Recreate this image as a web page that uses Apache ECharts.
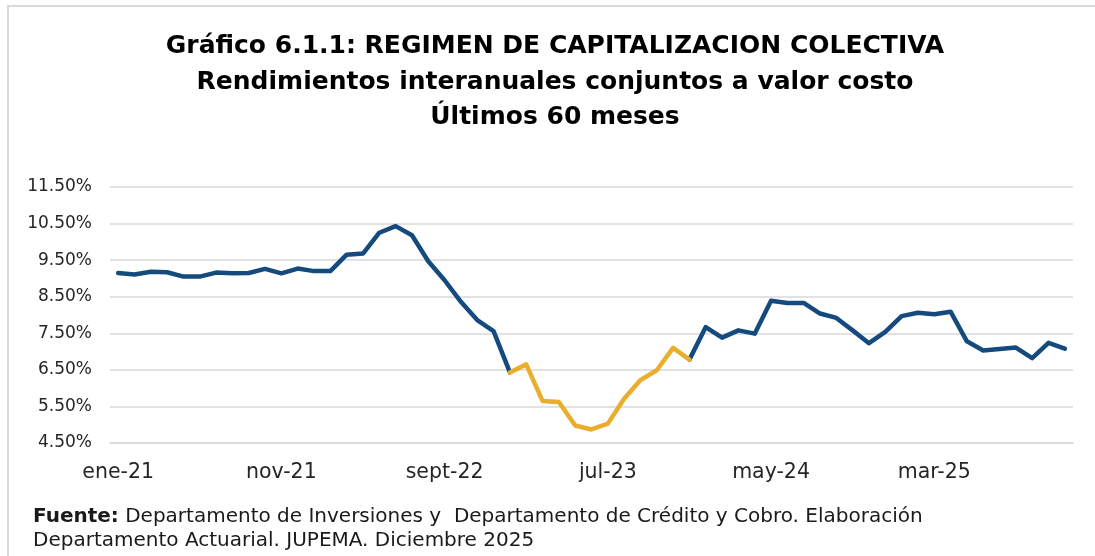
<!DOCTYPE html>
<html>
<head>
<meta charset="utf-8">
<title>Rendimientos interanuales</title>
<script src="https://cdn.jsdelivr.net/npm/echarts@6/dist/echarts.min.js"></script>
<style>
  html, body { margin: 0; padding: 0; background: #fff; }
  #chart { width: 1095px; height: 556px; }
</style>
</head>
<body>
<div id="chart"></div>
<script>
// meses de ene-21 a nov-25
var meses = [
  'ene-21', 'feb-21', 'mar-21', 'abr-21', 'may-21', 'jun-21', 'jul-21', 'ago-21', 'sept-21', 'oct-21', 'nov-21', 'dic-21',
  'ene-22', 'feb-22', 'mar-22', 'abr-22', 'may-22', 'jun-22', 'jul-22', 'ago-22', 'sept-22', 'oct-22', 'nov-22', 'dic-22',
  'ene-23', 'feb-23', 'mar-23', 'abr-23', 'may-23', 'jun-23', 'jul-23', 'ago-23', 'sept-23', 'oct-23', 'nov-23', 'dic-23',
  'ene-24', 'feb-24', 'mar-24', 'abr-24', 'may-24', 'jun-24', 'jul-24', 'ago-24', 'sept-24', 'oct-24', 'nov-24', 'dic-24',
  'ene-25', 'feb-25', 'mar-25', 'abr-25', 'may-25', 'jun-25', 'jul-25', 'ago-25', 'sept-25', 'oct-25', 'nov-25'
]

// rendimiento interanual (%)
var rendimiento = [
  9.15, 9.11, 9.18, 9.17, 9.05, 9.05, 9.16, 9.14, 9.15, 9.26, 9.14, 9.27,
  9.20, 9.20, 9.65, 9.68, 10.25, 10.43, 10.18, 9.47, 8.95, 8.36, 7.86, 7.56,
  6.43, 6.65, 5.65, 5.62, 4.98, 4.87, 5.03, 5.71, 6.22, 6.49, 7.10, 6.78,
  7.67, 7.38, 7.58, 7.49, 8.39, 8.33, 8.33, 8.04, 7.92, 7.58, 7.23, 7.54,
  7.97, 8.06, 8.02, 8.09, 7.28, 7.03, 7.07, 7.11, 6.82, 7.24, 7.08
]

// tramo resaltado en amarillo (indices)
var tramoInicio = 24
var tramoFin = 35

var fuente = 'DejaVu Sans'
var titulo = 'Gráfico 6.1.1: REGIMEN DE CAPITALIZACION COLECTIVA\nRendimientos interanuales conjuntos a valor costo\nÚltimos 60 meses'

var serieAzul = rendimiento.map(function(v, i) {
  return (i > tramoInicio && i < tramoFin) ? null : v
})
var serieAmarilla = rendimiento.map(function(v, i) {
  return (i >= tramoInicio && i <= tramoFin) ? v : null
})

var chart = echarts.init(document.getElementById('chart'))
var option = {
  backgroundColor: '#fff',
  animation: false,
  title: {
    text: '{b|Fuente:} Departamento de Inversiones y  Departamento de Crédito y Cobro. Elaboración\nDepartamento Actuarial. JUPEMA. Diciembre 2025',
    left: 33,
    top: 505,
    padding: 0,
    textStyle: {
      fontFamily: fuente,
      fontWeight: 'normal',
      fontSize: 20,
      lineHeight: 24,
      color: '#1a1a1a',
      rich: {
        b: {
          fontFamily: fuente,
          fontSize: 20,
          fontWeight: 'bold',
          color: '#1a1a1a'
        }
      }
    }
  },
  graphic: [{
    type: 'rect',
    shape: { x: 8, y: 6, width: 1300, height: 700 },
    style: { fill: 'none', stroke: '#d9d9d9', lineWidth: 2 },
    silent: true
  }, {
    type: 'text',
    x: 555,
    y: 29,
    silent: true,
    style: {
      text: titulo,
      textAlign: 'center',
      fontFamily: fuente,
      fontWeight: 'bold',
      fontSize: 25,
      lineHeight: 35.5,
      fill: '#000'
    }
  }],
  grid: {
    left: 110,
    right: 22,
    top: 187,
    bottom: 113
  },
  xAxis: {
    type: 'category',
    data: meses,
    boundaryGap: true,
    axisTick: { show: false },
    axisLine: { lineStyle: { color: '#d9d9d9', width: 1.5 } },
    axisLabel: {
      interval: 9,
      margin: 19,
      fontFamily: fuente,
      fontSize: 20.5,
      color: '#262626'
    }
  },
  yAxis: {
    type: 'value',
    min: 4.5,
    max: 11.5,
    interval: 0.5,
    axisLine: { show: false },
    axisTick: { show: false },
    axisLabel: {
      margin: 18,
      fontFamily: fuente,
      fontSize: 17,
      color: '#262626',
      formatter: function(value) {
        return Math.round(value * 2) % 2 === 1 ? value.toFixed(2) + '%' : ''
      }
    },
    splitLine: {
      lineStyle: {
        color: ['#d9d9d9', 'rgba(0,0,0,0)'],
        width: 1.5
      }
    }
  },
  series: [{
    type: 'line',
    data: serieAzul,
    symbol: 'none',
    connectNulls: false,
    lineStyle: { color: '#154a7e', width: 4.5, join: 'round', cap: 'round' },
    z: 2
  }, {
    type: 'line',
    data: serieAmarilla,
    symbol: 'none',
    lineStyle: { color: '#e8ae2c', width: 4.5, join: 'round', cap: 'round' },
    z: 3
  }]
}
chart.setOption(option)
</script>
</body>
</html>
